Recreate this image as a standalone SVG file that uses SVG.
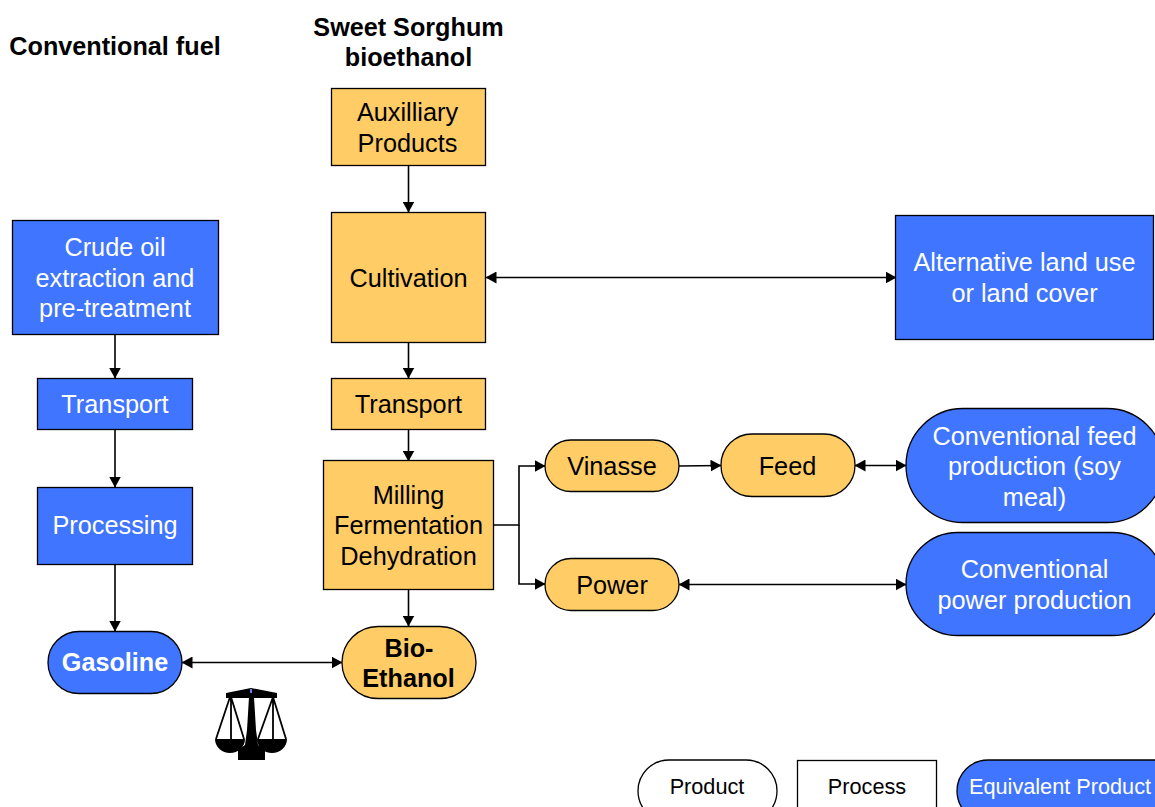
<svg xmlns="http://www.w3.org/2000/svg" width="1155" height="807" viewBox="0 0 1155 807">
<style>
text{font-family:"Liberation Sans",Arial,sans-serif;font-size:25.3px;text-anchor:middle}
.o{fill:#ffcc66;stroke:#000;stroke-width:1.3}
.b{fill:#4075ff;stroke:#000;stroke-width:1.3}
.w{fill:#fff;stroke:#000;stroke-width:1.3}
.k{fill:#000}
.l{fill:#fff}
.h{font-weight:bold;font-size:25.2px}
.s{font-size:21.7px}
.c path{fill:none;stroke:#000;stroke-width:1.6}
</style>
<defs>
<marker id="a" markerUnits="userSpaceOnUse" markerWidth="11" markerHeight="12" refX="10.5" refY="6" orient="auto-start-reverse"><path d="M0 0L11 6L0 12Z" fill="#000"/></marker>
</defs>
<rect width="1155" height="807" fill="#fff"/>
<g class="c">
<path d="M408.500 166V212" marker-end="url(#a)"/>
<path d="M408.500 343V378" marker-end="url(#a)"/>
<path d="M408.500 430V461" marker-end="url(#a)"/>
<path d="M408.500 590V626" marker-end="url(#a)"/>
<path d="M115 334V378" marker-end="url(#a)"/>
<path d="M115 430V487" marker-end="url(#a)"/>
<path d="M115 564V631" marker-end="url(#a)"/>
<path d="M486 277.500H896" marker-start="url(#a)" marker-end="url(#a)"/>
<path d="M182 662.500H342" marker-start="url(#a)" marker-end="url(#a)"/>
<path d="M493 525H519V466H545" marker-end="url(#a)"/>
<path d="M519 525V584H545" marker-end="url(#a)"/>
<path d="M679 466L721 465.500" marker-end="url(#a)"/>
<path d="M855 465.500H906" marker-start="url(#a)" marker-end="url(#a)"/>
<path d="M679 584.500H906" marker-start="url(#a)" marker-end="url(#a)"/>
</g>
<g id="title-conv"><text class="h" x="115" y="55">Conventional fuel</text></g>
<g id="title-sorghum"><text class="h" x="408.500" y="36">Sweet Sorghum</text><text class="h" x="408.500" y="66">bioethanol</text></g>
<g id="aux"><rect class="o" x="331.500" y="88.500" width="154" height="77"/><text class="k" x="407.500" y="121">Auxilliary</text><text class="k" x="407.500" y="152">Products</text></g>
<g id="cultivation"><rect class="o" x="331.500" y="212.500" width="154" height="130"/><text class="k" x="408.500" y="287">Cultivation</text></g>
<g id="transport2"><rect class="o" x="331.500" y="378.500" width="154" height="51"/><text class="k" x="408.500" y="413">Transport</text></g>
<g id="milling"><rect class="o" x="323.500" y="460.500" width="170" height="129"/><text class="k" x="408.500" y="504">Milling</text><text class="k" x="408.500" y="534">Fermentation</text><text class="k" x="408.500" y="565">Dehydration</text></g>
<g id="bioethanol"><rect class="o" x="342" y="626.500" width="134" height="72" rx="36"/><text class="k h" x="409" y="657">Bio-</text><text class="k h" x="408.500" y="687">Ethanol</text></g>
<g id="crude"><rect class="b" x="12.500" y="220.500" width="206" height="114"/><text class="l" x="115" y="256">Crude oil</text><text class="l" x="115" y="287">extraction and</text><text class="l" x="115" y="317">pre-treatment</text></g>
<g id="transport1"><rect class="b" x="37.500" y="378.500" width="155" height="51"/><text class="l" x="115" y="413">Transport</text></g>
<g id="processing"><rect class="b" x="37.500" y="487.500" width="155" height="77"/><text class="l" x="115" y="534">Processing</text></g>
<g id="gasoline"><rect class="b" x="48" y="631.500" width="134" height="62" rx="31"/><text class="l h" x="115" y="671">Gasoline</text></g>
<g id="altland"><rect class="b" x="895.500" y="215.500" width="258" height="124"/><text class="l" x="1024.500" y="271">Alternative land use</text><text class="l" x="1024.500" y="302">or land cover</text></g>
<g id="vinasse"><rect class="o" x="545" y="440" width="134" height="51.500" rx="25.700"/><text class="k" x="612" y="475">Vinasse</text></g>
<g id="power"><rect class="o" x="545" y="558.500" width="134" height="52" rx="26"/><text class="k" x="612" y="594">Power</text></g>
<g id="feed"><rect class="o" x="721" y="434" width="134" height="62.500" rx="31"/><text class="k" x="787.500" y="475">Feed</text></g>
<g id="convfeed"><rect class="b" x="906" y="408.500" width="258" height="114" rx="57"/><text class="l" x="1034.500" y="445">Conventional feed</text><text class="l" x="1034.500" y="475">production (soy</text><text class="l" x="1034.500" y="506">meal)</text></g>
<g id="convpower"><rect class="b" x="906" y="532.500" width="258" height="103" rx="51.500"/><text class="l" x="1034.500" y="578">Conventional</text><text class="l" x="1034.500" y="609">power production</text></g>
<g id="scales">
<path class="k" d="M226 693L251 688L277 693V698H226Z"/>
<path class="k" d="M249 697H254L256 730L258 745L265 750V760H238V750L245 745L247 730Z"/>
<rect x="250" y="689" width="2" height="4" fill="#6f7cf0"/>
<path d="M230 697L216 739M231 697V739M231 697L244 739M273 697L258 739M273 697V739M273 697L286 739" fill="none" stroke="#000" stroke-width="1.800"/>
<path class="k" d="M215 739H245C245 747 238 753 230 753C222 753 215 747 215 739Z"/>
<path class="k" d="M257 739H287C287 747 280 753 272 753C264 753 257 747 257 739Z"/>
</g>
<g id="legend-product"><rect class="w" x="638" y="760" width="139" height="62" rx="31"/><text class="k s" x="707" y="794">Product</text></g>
<g id="legend-process"><rect class="w" x="797.500" y="760.500" width="139" height="62"/><text class="k s" x="867" y="794">Process</text></g>
<g id="legend-equiv"><rect class="b" x="957" y="760" width="230" height="62" rx="31"/><text class="l s" x="1060" y="794">Equivalent Product</text></g>
</svg>
